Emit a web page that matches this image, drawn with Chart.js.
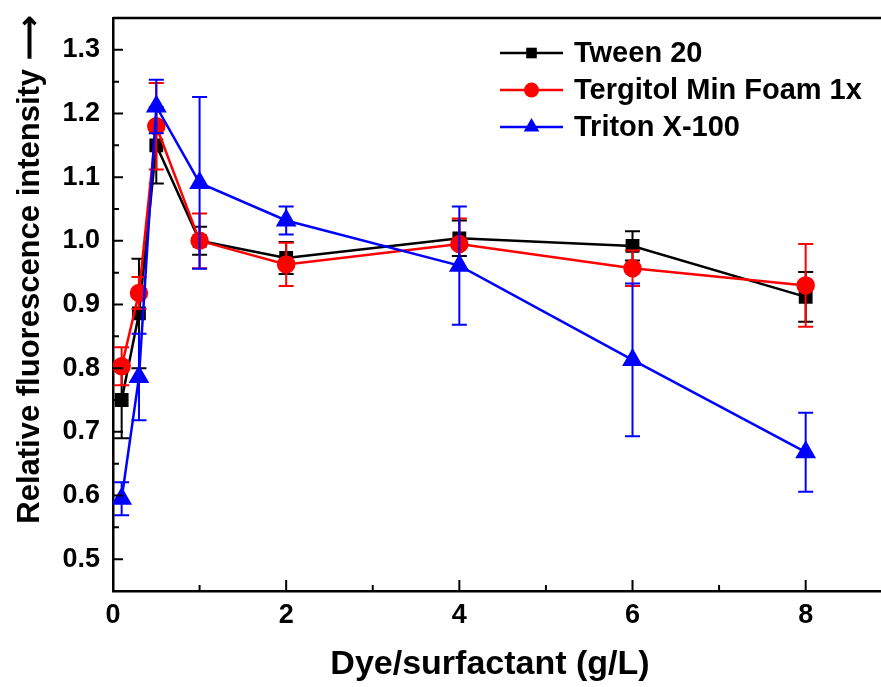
<!DOCTYPE html>
<html>
<head>
<meta charset="utf-8">
<title>Relative fluorescence intensity</title>
<script src="https://cdn.jsdelivr.net/npm/chart.js@4"></script>
<style>
  html, body { margin: 0; padding: 0; background: #fff; }
  #wrap { width: 881px; height: 687px; }
</style>
</head>
<body>
<div id="wrap"><canvas id="chart" width="881" height="687"></canvas></div>
<script>
// Dye/surfactant concentration (g/L)
const concentrations = [0.1, 0.3, 0.5, 1, 2, 4, 6, 8];

// Series values and their error bars
const tweenValues = [0.75, 0.886, 1.15, 1.0, 0.973, 1.004, 0.992, 0.912];
const tweenErrors = [0.06, 0.086, 0.06, 0.022, 0.025, 0.028, 0.023, 0.039];
const tergitolValues = [0.803, 0.918, 1.18, 1.0, 0.963, 0.995, 0.957, 0.93];
const tergitolErrors = [0.03, 0.025, 0.068, 0.043, 0.034, 0.04, 0.028, 0.065];
const tritonValues = [0.595, 0.786, 1.211, 1.091, 1.032, 0.961, 0.813, 0.668];
const tritonErrors = [0.026, 0.068, 0.042, 0.135, 0.022, 0.093, 0.12, 0.062];

const seriesLabels = ["Tween 20", "Tergitol Min Foam 1x", "Triton X-100"];

// Tick labels
const xTicks = [0, 2, 4, 6, 8];
const xMinorTicks = [1, 3, 5, 7];
const yTicks = [0.5, 0.6, 0.7, 0.8, 0.9, 1.0, 1.1, 1.2, 1.3];
const yMinorTicks = [0.55, 0.65, 0.75, 0.85, 0.95, 1.05, 1.15, 1.25];

const xTitle = "Dye/surfactant (g/L)";
const yTitle = "Relative fluorescence intensity \u27F6";

const FONT = "'Liberation Sans', Arial, Helvetica, sans-serif";

const toPoints = (values) => concentrations.map((x, i) => ({ x: x, y: values[i] }));

// Error bars, drawn right after each dataset so the stacking matches
const errorBarPlugin = {
  id: "errorBars",
  afterDatasetDraw(chart, args) {
    const ds = chart.data.datasets[args.index];
    if (!ds.errors) return;
    const ctx = chart.ctx;
    const yScale = chart.scales.y;
    ctx.save();
    ctx.strokeStyle = ds.borderColor;
    ctx.lineWidth = 2;
    args.meta.data.forEach((pt, i) => {
      const v = ds.data[i].y;
      const e = ds.errors[i];
      const top = yScale.getPixelForValue(v + e);
      const bot = yScale.getPixelForValue(v - e);
      ctx.beginPath();
      ctx.moveTo(pt.x, top);
      ctx.lineTo(pt.x, bot);
      ctx.moveTo(pt.x - 7.5, top);
      ctx.lineTo(pt.x + 7.5, top);
      ctx.moveTo(pt.x - 7.5, bot);
      ctx.lineTo(pt.x + 7.5, bot);
      ctx.stroke();
    });
    ctx.restore();
  }
};

function drawMarker(ctx, style, x, y, r, color) {
  ctx.fillStyle = color;
  ctx.beginPath();
  if (style === "rect") {
    const s = r * Math.SQRT1_2;
    ctx.rect(x - s, y - s, 2 * s, 2 * s);
  } else if (style === "circle") {
    ctx.arc(x, y, r, 0, Math.PI * 2);
  } else {
    ctx.moveTo(x, y - r);
    ctx.lineTo(x + r * Math.sin(Math.PI * 2 / 3), y + r / 2);
    ctx.lineTo(x - r * Math.sin(Math.PI * 2 / 3), y + r / 2);
    ctx.closePath();
  }
  ctx.fill();
}

// Frame, inward ticks, axis titles and legend
const decorPlugin = {
  id: "decor",
  afterDraw(chart) {
    const ctx = chart.ctx;
    const area = chart.chartArea;
    const xs = chart.scales.x;
    const ys = chart.scales.y;
    ctx.save();
    ctx.strokeStyle = "#000";
    ctx.lineWidth = 2.5;

    // top frame line
    ctx.beginPath();
    ctx.moveTo(area.left, area.top);
    ctx.lineTo(area.right, area.top);
    ctx.stroke();

    // inward ticks
    ctx.lineWidth = 2;
    ctx.beginPath();
    xTicks.forEach(v => {
      const px = xs.getPixelForValue(v);
      ctx.moveTo(px, area.bottom);
      ctx.lineTo(px, area.bottom - 11);
    });
    xMinorTicks.forEach(v => {
      const px = xs.getPixelForValue(v);
      ctx.moveTo(px, area.bottom);
      ctx.lineTo(px, area.bottom - 6);
    });
    yTicks.forEach(v => {
      const py = ys.getPixelForValue(v);
      ctx.moveTo(area.left, py);
      ctx.lineTo(area.left + 10, py);
    });
    yMinorTicks.forEach(v => {
      const py = ys.getPixelForValue(v);
      ctx.moveTo(area.left, py);
      ctx.lineTo(area.left + 6, py);
    });
    ctx.stroke();

    // axis titles
    ctx.fillStyle = "#000";
    ctx.textAlign = "center";
    ctx.textBaseline = "middle";
    ctx.font = "bold 34px " + FONT;
    ctx.fillText(xTitle, 490, 665);

    ctx.save();
    ctx.translate(30, 270);
    ctx.rotate(-Math.PI / 2);
    ctx.font = "bold 31px " + FONT;
    ctx.fillText(yTitle, 0, 0);
    ctx.restore();

    // legend
    const rows = [53, 90, 127];
    ctx.textAlign = "left";
    ctx.font = "bold 29px " + FONT;
    chart.data.datasets.forEach((ds, i) => {
      const y = rows[i];
      ctx.strokeStyle = ds.borderColor;
      ctx.lineWidth = 2.5;
      ctx.beginPath();
      ctx.moveTo(500, y);
      ctx.lineTo(563, y);
      ctx.stroke();
      drawMarker(ctx, ds.pointStyle, 531.5, y, ds.pointStyle === "triangle" ? 9 : 7.5, ds.borderColor);
      ctx.fillStyle = "#000";
      ctx.fillText(ds.label, 574, y + 1);
    });
    ctx.restore();
  }
};

const tickFont = { family: FONT, size: 27, weight: "bold" };

new Chart(document.getElementById("chart"), {
  type: "line",
  data: {
    datasets: [
      {
        label: seriesLabels[0],
        data: toPoints(tweenValues),
        errors: tweenErrors,
        borderColor: "#000000",
        backgroundColor: "#000000",
        pointStyle: "rect",
        pointRadius: 8,
        borderWidth: 2.5,
        order: 3
      },
      {
        label: seriesLabels[1],
        data: toPoints(tergitolValues),
        errors: tergitolErrors,
        borderColor: "#ff0000",
        backgroundColor: "#ff0000",
        pointStyle: "circle",
        pointRadius: 8,
        borderWidth: 2.5,
        order: 2
      },
      {
        label: seriesLabels[2],
        data: toPoints(tritonValues),
        errors: tritonErrors,
        borderColor: "#0000ff",
        backgroundColor: "#0000ff",
        pointStyle: "triangle",
        pointRadius: 9.5,
        borderWidth: 2.5,
        order: 1
      }
    ]
  },
  options: {
    responsive: false,
    animation: false,
    devicePixelRatio: 1,
    layout: { autoPadding: false, padding: { top: 18, left: 0, right: 0, bottom: 0 } },
    elements: {
      point: { borderWidth: 0, hoverRadius: 8 },
      line: { tension: 0 }
    },
    plugins: {
      legend: { display: false },
      tooltip: { enabled: false }
    },
    scales: {
      x: {
        type: "linear",
        min: 0,
        max: 8.87,
        grid: { display: false },
        border: { display: true, color: "#000", width: 2.5 },
        ticks: { color: "#000", font: tickFont, padding: 0, maxRotation: 0 },
        afterBuildTicks: (s) => { s.ticks = xTicks.map(v => ({ value: v })); },
        afterFit: (s) => { s.height = 96; s.paddingLeft = 0; s.paddingRight = 0; }
      },
      y: {
        min: 0.45,
        max: 1.35,
        grid: { display: false },
        border: { display: true, color: "#000", width: 2.5 },
        ticks: {
          color: "#000",
          font: tickFont,
          padding: 5,
          callback: (v) => v.toFixed(1)
        },
        afterBuildTicks: (s) => { s.ticks = yTicks.map(v => ({ value: v })); },
        afterFit: (s) => { s.width = 113; s.paddingTop = 0; s.paddingBottom = 0; }
      }
    }
  },
  plugins: [errorBarPlugin, decorPlugin]
});
</script>
</body>
</html>
